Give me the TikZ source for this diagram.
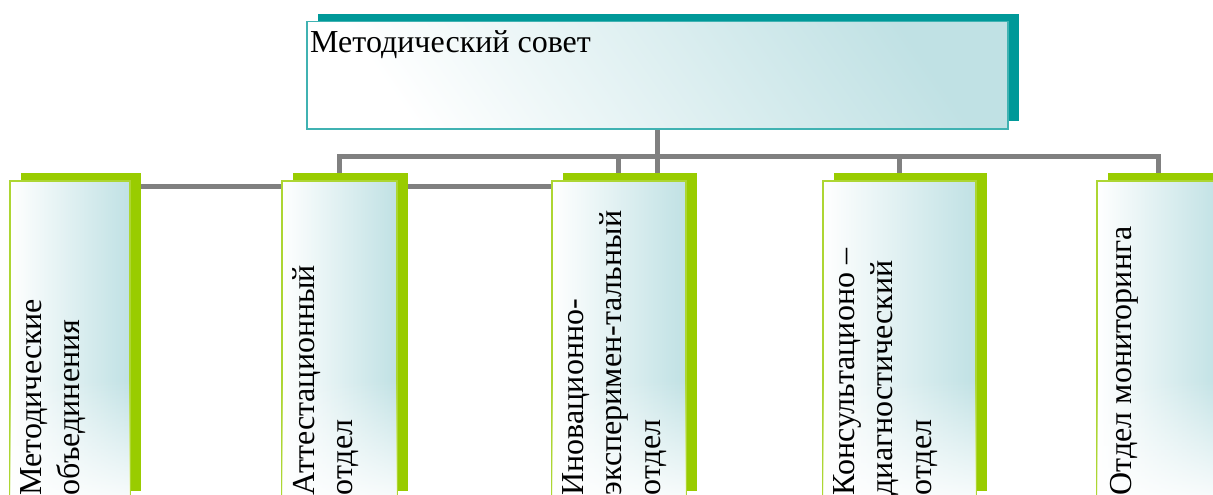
\documentclass[tikz,border=0pt]{standalone}
\usepackage{fontspec}
\setmainfont{Liberation Serif}
\usetikzlibrary{shadows,fadings,backgrounds}

\definecolor{sovetteal}{HTML}{009999}
\definecolor{paleteal}{HTML}{C0E1E4}
\definecolor{leafgreen}{HTML}{99CC00}
\definecolor{linkgray}{HTML}{808080}

\begin{document}
\begin{tikzpicture}[x=1pt,y=-1pt,
    link/.style={draw=linkgray,line width=5pt},
    head/.style={rectangle,draw=sovetteal!75,line width=1.5pt,inner sep=0pt,anchor=north west,
      top color=paleteal,bottom color=white,shading angle=-55,
      general shadow={fill=sovetteal,shadow xshift=11pt,shadow yshift=8pt}},
    unit/.style={rectangle,draw=leafgreen!80,line width=1.5pt,inner sep=0pt,anchor=north west,
      minimum height=318pt,left color=white,right color=paleteal,
      general shadow={fill=leafgreen,shadow xshift=11pt,shadow yshift=8pt}},
    unittext/.style={rotate=90,anchor=north west,align=left,inner sep=0pt,
      font=\fontsize{32}{38.5}\selectfont}]
  \useasboundingbox (0,0) rectangle (1213,495);

  % boxes
  \node[head,minimum width=701pt,minimum height=107pt] (sovet) at (306,21) {};
  \node[unit,minimum width=120pt] (metob) at (9,180) {};
  \node[unit,minimum width=115pt] (att) at (281,180) {};
  \node[unit,minimum width=134pt] (inn) at (551,180) {};
  \node[unit,minimum width=153pt] (kons) at (822,180) {};
  \node[unit,minimum width=124pt] (mon) at (1096,180) {};

  % paler lower part
  \foreach \b in {metob,att,inn,kons,mon}
    \fill[white,fill opacity=0.9,path fading=north]
      ([shift={(1pt,1pt)}]\b.south west) rectangle ([xshift=-1pt,yshift=-40pt]\b.east);

  % texts
  \node[font=\fontsize{32}{38.5}\selectfont,anchor=base west,inner sep=0pt] (sovet-t)
    at ([shift={(4pt,-32pt)}]sovet.north west) {Методический совет};
  \node[unittext] (metob-t) at ([shift={(11pt,4pt)}]metob.south west) {Методические\\объединения};
  \node[unittext] (att-t) at ([shift={(11pt,4pt)}]att.south west) {Аттестационный\\отдел};
  \node[unittext] (inn-t) at ([shift={(11pt,4pt)}]inn.south west) {Иновационно-\\эксперимен-тальный\\отдел};
  \node[unittext] (kons-t) at ([shift={(11pt,4pt)}]kons.south west) {Консультационо –\\диагностический\\отдел};
  \node[unittext] (mon-t) at ([shift={(14pt,4pt)}]mon.south west) {Отдел мониторинга};

  % connectors
  \begin{scope}[on background layer]
    \draw[link] (sovet.south) -- (sovet.south |- inn.north);
    \draw[link] (att.north) -- ++(0,-24) -| (mon.north);
    \draw[link] (inn.north) -- ++(0,-24);
    \draw[link] (kons.north) -- ++(0,-24);
    \draw[link] ([yshift=-6pt]metob.north east) -- ([yshift=-6pt]att.north west);
    \draw[link] ([yshift=-6pt]att.north east) -- ([yshift=-6pt]inn.north west);
  \end{scope}
\end{tikzpicture}
\end{document}
